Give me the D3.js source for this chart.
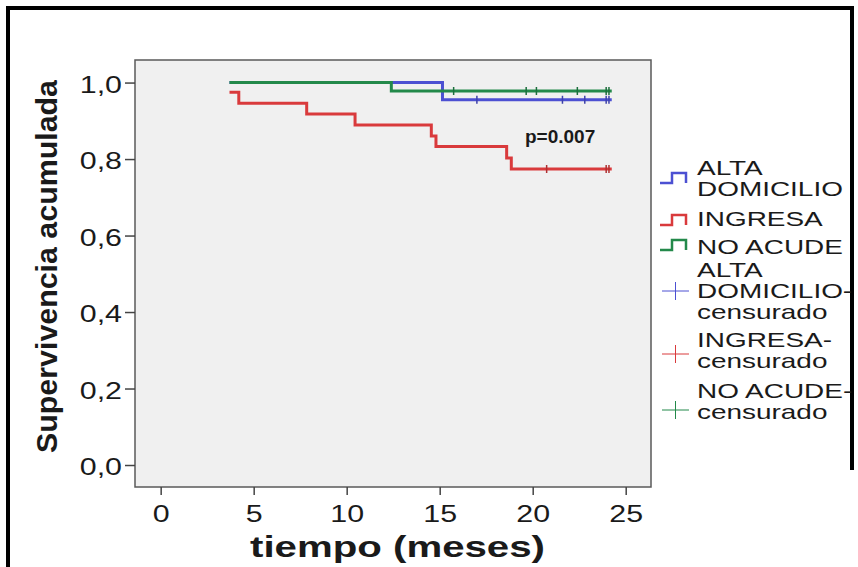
<!DOCTYPE html>
<html>
<head>
<meta charset="utf-8">
<script src="https://d3js.org/d3.v7.min.js"></script>
<style>
  body { margin: 0; background: #fff; }
  svg text { font-family: "Liberation Sans", Arial, sans-serif; fill: #1a1a1a; }
</style>
</head>
<body>
<div id="chart"></div>
<script>
// Kaplan-Meier step points (time in months, cumulative survival)
const groupNames = ["ALTA DOMICILIO", "INGRESA", "NO ACUDE"]
const groupColors = ["#4c50d2", "#d93a3c", "#23894a"]

const altaTimes = [3.7, 15.15, 24.25]
const altaSurv = [1.0, 0.955, 0.955]
const altaCensored = [17.0, 21.6, 22.8, 23.95, 24.1]

const ingresaTimes = [3.7, 4.2, 7.85, 10.45, 14.55, 14.8, 18.6, 18.85, 24.25]
const ingresaSurv = [0.975, 0.946, 0.918, 0.889, 0.86, 0.833, 0.803, 0.774, 0.774]
const ingresaCensored = [20.75, 23.95, 24.1]

const noAcudeTimes = [3.7, 12.4, 24.25]
const noAcudeSurv = [1.0, 0.978, 0.978]
const noAcudeCensored = [15.75, 19.65, 20.2, 22.4, 23.95, 24.1]

const xTicks = [0, 5, 10, 15, 20, 25]
const yTicks = [0, 0.2, 0.4, 0.6, 0.8, 1.0]

const legendLabels = [
    ["ALTA", "DOMICILIO"],
    ["INGRESA"],
    ["NO ACUDE"],
    ["ALTA", "DOMICILIO-", "censurado"],
    ["INGRESA-", "censurado"],
    ["NO ACUDE-", "censurado"]
]

let width = 858
let height = 567
let plot = {left: 135, top: 60, right: 651, bottom: 487}

let svg = d3.select("#chart")
    .append("svg")
    .attr("width", width)
    .attr("height", height)

// the picture is stretched sideways, so most text is widened to match
function stretch(sel, k) {
    sel.each(function() {
        let len = this.getComputedTextLength()
        d3.select(this)
            .attr("textLength", len * k)
            .attr("lengthAdjust", "spacingAndGlyphs")
    })
}

// outer black frame
svg.append("path")
    .attr("d", "M8,567V8H852V470")
    .attr("fill", "none")
    .attr("stroke", "#000")
    .attr("stroke-width", 4)

let x = d3.scaleLinear()
    .domain([-1.38, 26.36])
    .range([plot.left, plot.right])

let y = d3.scaleLinear()
    .domain([-0.0575, 1.059])
    .range([plot.bottom, plot.top])

svg.append("rect")
    .attr("x", plot.left)
    .attr("y", plot.top)
    .attr("width", plot.right - plot.left)
    .attr("height", plot.bottom - plot.top)
    .attr("fill", "#f0f0f0")
    .attr("stroke", "#5a5a5a")
    .attr("stroke-width", 1.5)

let xAxis = svg.append("g")
    .attr("transform", `translate(0,${plot.bottom})`)
    .call(d3.axisBottom(x).tickValues(xTicks).tickSize(8).tickPadding(11).tickFormat(d3.format("d")))
xAxis.select(".domain").remove()
xAxis.selectAll("line").attr("stroke", "#444").attr("stroke-width", 1.5)
xAxis.selectAll("text")
    .style("font-size", "23px")
    .attr("fill", "#1a1a1a")
    .call(stretch, 1.32)

let yAxis = svg.append("g")
    .attr("transform", `translate(${plot.left},0)`)
    .call(d3.axisLeft(y).tickValues(yTicks).tickSize(10).tickPadding(3)
        .tickFormat(d => d.toFixed(1).replace(".", ",")))
yAxis.select(".domain").remove()
yAxis.selectAll("line").attr("stroke", "#444").attr("stroke-width", 1.5)
yAxis.selectAll("text")
    .style("font-size", "23px")
    .attr("dy", "0.42em")
    .attr("fill", "#1a1a1a")
    .call(stretch, 1.32)

svg.append("text")
    .attr("x", (250 + 545) / 2)
    .attr("y", 557)
    .attr("text-anchor", "middle")
    .style("font-size", "30px")
    .style("font-weight", "bold")
    .attr("textLength", 295)
    .attr("lengthAdjust", "spacingAndGlyphs")
    .text("tiempo (meses)")

svg.append("text")
    .attr("transform", "translate(57,266.5) rotate(-90)")
    .attr("text-anchor", "middle")
    .style("font-size", "30px")
    .style("font-weight", "bold")
    .attr("textLength", 373)
    .attr("lengthAdjust", "spacingAndGlyphs")
    .text("Supervivencia acumulada")

// survival curves
let series = [
    {times: altaTimes, surv: altaSurv, cens: altaCensored},
    {times: ingresaTimes, surv: ingresaSurv, cens: ingresaCensored},
    {times: noAcudeTimes, surv: noAcudeSurv, cens: noAcudeCensored}
]

let line = d3.line()
    .x(d => x(d[0]))
    .y(d => y(d[1]))
    .curve(d3.curveStepAfter)

// survival value at time t, for placing the censor marks
function survAt(s, t) {
    let v = s.surv[0]
    for (let i = 0; i < s.times.length; i++) {
        if (s.times[i] <= t) v = s.surv[i]
    }
    return v
}

let drawOrder = [1, 0, 2]
drawOrder.forEach(i => {
    let s = series[i]
    let pts = s.times.map((t, j) => [t, s.surv[j]])
    svg.append("path")
        .datum(pts)
        .attr("d", line)
        .attr("fill", "none")
        .attr("stroke", groupColors[i])
        .attr("stroke-width", 3)

    svg.selectAll(null)
        .data(s.cens)
        .enter()
        .append("line")
        .attr("x1", d => x(d))
        .attr("x2", d => x(d))
        .attr("y1", d => y(survAt(s, d)) - 4)
        .attr("y2", d => y(survAt(s, d)) + 4)
        .attr("stroke", d3.color(groupColors[i]).darker(0.6))
        .attr("stroke-width", 1.5)
})

svg.append("text")
    .attr("x", 525)
    .attr("y", 143)
    .style("font-size", "19px")
    .style("font-weight", "bold")
    .text("p=0.007")

// legend
let legendBaselines = [[175, 196], [226], [254], [277, 298, 319], [347, 368], [398, 419]]
let legendMarkY = [178, 220, 245, 291, 354, 410]

let legend = svg.append("g")

legendLabels.forEach((lines, i) => {
    let c = groupColors[i % 3]
    let my = legendMarkY[i]
    if (i < 3) {
        legend.append("path")
            .attr("d", `M660,${my + 5}H672V${my - 5}H686V${my + 5}`)
            .attr("fill", "none")
            .attr("stroke", c)
            .attr("stroke-width", 2.5)
    } else {
        legend.append("path")
            .attr("d", `M662,${my}H689M675.5,${my - 9}V${my + 9}`)
            .attr("fill", "none")
            .attr("stroke", c)
            .attr("stroke-width", 1)
    }
    lines.forEach((t, j) => {
        legend.append("text")
            .attr("x", 697)
            .attr("y", legendBaselines[i][j])
            .style("font-size", "21px")
            .text(t)
            .call(stretch, 1.33)
    })
})
</script>
</body>
</html>
